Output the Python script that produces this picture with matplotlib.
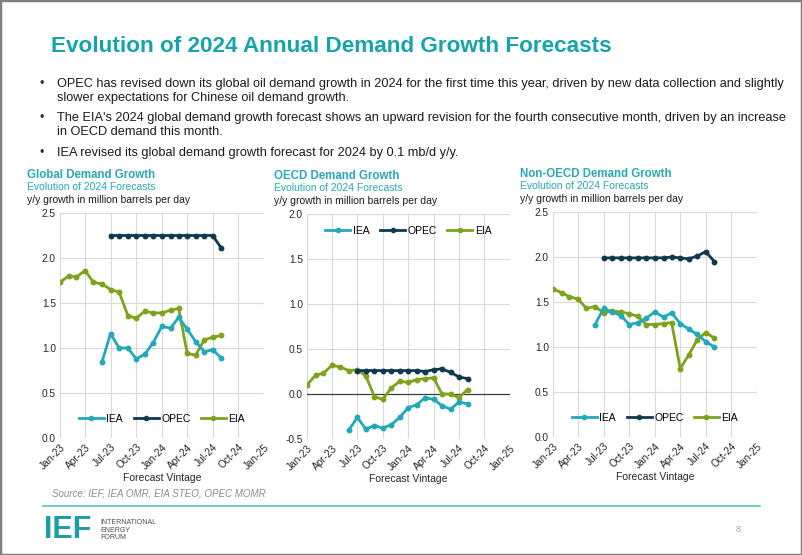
import numpy as np
import pandas as pd
import matplotlib
matplotlib.use('Agg')
import matplotlib.pyplot as plt
import matplotlib.dates as mdates
from matplotlib.patches import Rectangle
from matplotlib.lines import Line2D

plt.rcParams['font.family'] = ['Liberation Sans', 'DejaVu Sans']

# forecast vintages (monthly), all series end Aug-24
END = '2024-08-01'
eia_months = pd.date_range('2023-01-01', END, freq='MS')
iea_months = pd.date_range('2023-06-01', END, freq='MS')
opec_months = pd.date_range('2023-07-01', END, freq='MS')

# Global demand growth, mb/d
global_eia = [1.73, 1.80, 1.79, 1.86, 1.73, 1.71, 1.65, 1.62, 1.36, 1.33,
              1.41, 1.39, 1.39, 1.42, 1.44, 0.94, 0.92, 1.09, 1.12, 1.14]
global_iea = [0.85, 1.16, 1.00, 1.00, 0.88, 0.93, 1.06, 1.24, 1.22, 1.34,
              1.21, 1.07, 0.96, 0.98, 0.89]
global_opec = [2.25, 2.25, 2.25, 2.25, 2.25, 2.25, 2.25, 2.25, 2.25, 2.25,
               2.25, 2.25, 2.25, 2.11]

# OECD demand growth
oecd_eia = [0.10, 0.21, 0.23, 0.32, 0.30, 0.26, 0.27, 0.20, -0.03, -0.06,
            0.07, 0.14, 0.13, 0.16, 0.17, 0.18, 0.00, 0.00, -0.04, 0.05]
oecd_iea = [-0.40, -0.26, -0.39, -0.35, -0.38, -0.34, -0.26, -0.15, -0.12, -0.04,
            -0.06, -0.13, -0.17, -0.09, -0.11]
oecd_opec = [0.26, 0.26, 0.26, 0.26, 0.26, 0.26, 0.26, 0.26, 0.25, 0.27,
             0.28, 0.24, 0.19, 0.17]

# Non-OECD demand growth
nonoecd_eia = [1.65, 1.60, 1.56, 1.53, 1.43, 1.45, 1.38, 1.40, 1.39, 1.37,
               1.34, 1.25, 1.25, 1.26, 1.27, 0.76, 0.91, 1.08, 1.16, 1.10]
nonoecd_iea = [1.25, 1.43, 1.39, 1.35, 1.25, 1.27, 1.32, 1.39, 1.33, 1.38,
               1.26, 1.20, 1.14, 1.06, 1.00]
nonoecd_opec = [1.99, 1.99, 1.99, 1.99, 1.99, 1.99, 1.99, 1.99, 2.00, 1.99,
                1.98, 2.01, 2.06, 1.95]

bullets = [
    "OPEC has revised down its global oil demand growth in 2024 for the first time this year, driven by new data collection and slightly\nslower expectations for Chinese oil demand growth.",
    "The EIA's 2024 global demand growth forecast shows an upward revision for the fourth consecutive month, driven by an increase\nin OECD demand this month.",
    "IEA revised its global demand growth forecast for 2024 by 0.1 mb/d y/y.",
]

TEAL_TITLE = '#16A3AA'
C_IEA = '#22A8B8'
C_OPEC = '#0E3A4E'
C_EIA = '#7FA11C'

W, H = 802, 555
fig = plt.figure(figsize=(W / 100, H / 100), dpi=100)


def fx(px):
    return px / W


def fy(py):
    return 1 - py / H


# slide frame
fig.patches.append(Rectangle((0, 0), 1, 1, transform=fig.transFigure, fill=False,
                             edgecolor='#7F7F7F', lw=2.5))

fig.text(fx(51), fy(46), 'Evolution of 2024 Annual Demand Growth Forecasts',
         fontsize=16.2, fontweight='bold', color=TEAL_TITLE, va='center')

# y of the first line of each bullet
bullet_y = [85, 119, 154]
for text, y in zip(bullets, bullet_y):
    fig.text(fx(40), fy(y - 1), u'\u2022', fontsize=9, color='#333333', va='center')
    fig.text(fx(57), fy(y - 7), text, fontsize=9.2, color='#1A1A1A', va='top',
             linespacing=1.25)


def panel(left_px, top_px, right_px, bottom_px, title, ylim, yticks,
          eia, iea, opec, legend_y, zero_line=False):
    ax = fig.add_axes([fx(left_px), fy(bottom_px), fx(right_px - left_px),
                       (bottom_px - top_px) / H])
    ax.plot(eia_months, eia, color=C_EIA, lw=2, marker='o', ms=3.2, zorder=3)
    ax.plot(iea_months, iea, color=C_IEA, lw=2, marker='o', ms=3.2, zorder=4)
    ax.plot(opec_months, opec, color=C_OPEC, lw=2, marker='o', ms=3.2, zorder=5)
    if zero_line:
        ax.axhline(0, color='#404040', lw=0.9, zorder=2)
    ax.set_xlim(pd.Timestamp('2023-01-01'), pd.Timestamp('2025-01-01'))
    ax.set_ylim(*ylim)
    ax.set_yticks(yticks)
    ax.yaxis.set_major_formatter(matplotlib.ticker.FormatStrFormatter('%.1f'))
    ax.xaxis.set_major_locator(mdates.MonthLocator(bymonth=[1, 4, 7, 10]))
    ax.xaxis.set_major_formatter(mdates.DateFormatter('%b-%y'))
    ax.grid(True, color='#D9D9D9', lw=0.8)
    ax.set_axisbelow(True)
    for s in ax.spines.values():
        s.set_visible(False)
    ax.tick_params(length=0, labelsize=7.3, colors='#262626', pad=3)
    for lab in ax.get_xticklabels():
        lab.set_rotation(45)
        lab.set_ha('right')
        lab.set_rotation_mode('anchor')
    ax.set_xlabel('Forecast Vintage', fontsize=7.5, color='#262626', labelpad=1)

    handles = [Line2D([], [], color=c, lw=2, marker='o', ms=3) for c in (C_IEA, C_OPEC, C_EIA)]
    ax.legend(handles, ['IEA', 'OPEC', 'EIA'], loc='center', ncol=3, frameon=False,
              bbox_to_anchor=(0.5, legend_y), fontsize=7.5, handlelength=2.4,
              handletextpad=0.25, columnspacing=1.0)

    tx = left_px - 33
    fig.text(fx(tx), fy(top_px - 38), title, fontsize=8.3, fontweight='bold',
             color='#2AA8B4', va='center')
    fig.text(fx(tx), fy(top_px - 26), 'Evolution of 2024 Forecasts', fontsize=7.5,
             color='#2AA8B4', va='center')
    fig.text(fx(tx), fy(top_px - 13), 'y/y growth in million barrels per day',
             fontsize=7.5, color='#1A1A1A', va='center')
    return ax


panel(60, 213, 264, 438, 'Global Demand Growth', (0, 2.5),
      [0, 0.5, 1.0, 1.5, 2.0, 2.5], global_eia, global_iea, global_opec, 0.085)
panel(307, 214, 510, 439, 'OECD Demand Growth', (-0.5, 2.0),
      [-0.5, 0, 0.5, 1.0, 1.5, 2.0], oecd_eia, oecd_iea, oecd_opec, 0.925,
      zero_line=True)
panel(553, 212, 757, 437, 'Non-OECD Demand Growth', (0, 2.5),
      [0, 0.5, 1.0, 1.5, 2.0, 2.5], nonoecd_eia, nonoecd_iea, nonoecd_opec, 0.085)

fig.text(fx(52), fy(494), 'Source: IEF, IEA OMR, EIA STEO, OPEC MOMR', fontsize=7,
         style='italic', color='#8C8C8C', va='center')

# footer
fig.add_artist(Line2D([fx(43), fx(760)], [fy(506), fy(506)], color='#5CC3C3', lw=1.2))
fig.text(fx(44), fy(530), 'IEF', fontsize=22, fontweight='bold', color='#1C9EA8',
         va='center')
fig.text(fx(100), fy(530), 'INTERNATIONAL\nENERGY\nFORUM', fontsize=5,
         color='#4D4D4D', va='center', linespacing=1.1)
fig.text(fx(736), fy(529), '8', fontsize=6.5, color='#A6A6A6', va='center')

fig.savefig('out.png', dpi=100)
